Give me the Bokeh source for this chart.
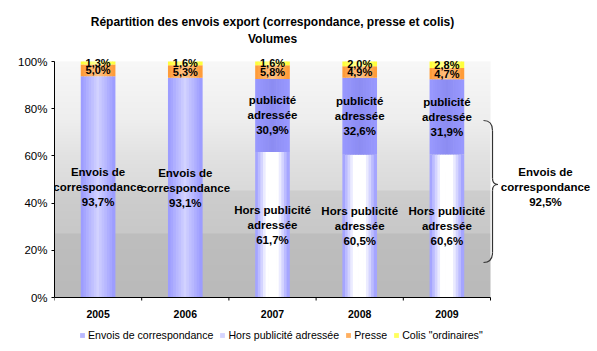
import numpy as np
from bokeh.plotting import figure
from bokeh.models import (ColumnDataSource, FixedTicker, CustomJSTickFormatter,
                          Legend, LegendItem, Range1d)
from bokeh.transform import dodge
from bokeh.core.properties import value
from bokeh.embed import file_html
from bokeh.resources import INLINE

# ---------------- data ----------------
years = ["2005", "2006", "2007", "2008", "2009"]
hors_pub = [0.0, 0.0, 61.7, 60.5, 60.6]      # Hors publicité adressée
envois = [93.7, 93.1, 0.0, 0.0, 0.0]        # Envois de correspondance (non ventilés)
pub_adr = [0.0, 0.0, 30.9, 32.6, 31.9]      # publicité adressée
presse = [5.0, 5.3, 5.8, 4.9, 4.7]          # Presse
colis = [1.3, 1.6, 1.6, 2.0, 2.8]           # Colis "ordinaires"
envois_2009_total = 92.5
y_ticks = [0, 20, 40, 60, 80, 100]
legend_labels = ["Envois de correspondance", "Hors publicité adressée", "Presse", 'Colis "ordinaires"']
title_lines = ["Répartition des envois export (correspondance, presse et colis)", "Volumes"]

# ---------------- style ----------------
FONT = value("Liberation Sans")
BAR_W = 0.39
NSTRIP = 13
PX_PER_CAT = 87.2
Y_PER_PX = 100.0 / 236.0
LEFT = 54

n = len(years)
xc = np.arange(n) + 0.5

def fmt(v):
    return f"{v:.1f}".replace(".", ",") + "%"

def hexcol(c):
    return "#%02x%02x%02x" % tuple(int(round(v)) for v in c)

def mix(a, b, t):
    return tuple(a[i] + (b[i] - a[i]) * t for i in range(3))

def px2x(px):
    return (px - LEFT) / PX_PER_CAT

def py2y(py):
    return (297 - py) * Y_PER_PX

p = figure(width=597, height=351,
           x_range=Range1d(0, px2x(597)),
           y_range=Range1d(py2y(351), py2y(0)),
           x_axis_type=None, output_backend="svg", toolbar_location=None,
           min_border_left=LEFT, min_border_right=0, min_border_top=0, min_border_bottom=0,
           background_fill_color="white", border_fill_color="white")
p.outline_line_color = None
p.grid.visible = False

# ---- plot-area background (vertical grey gradient) ----
H = 236
ys = (np.arange(H) + 0.5) / H * 100
lev = np.interp(ys, [0, 27, 27.01, 45.5, 45.51, 60, 75, 100],
                [186, 190, 200, 206, 218, 226, 238, 248])
img = np.empty((H, 2), dtype=np.uint32)
view = img.view(dtype=np.uint8).reshape((H, 2, 4))
for c in range(3):
    view[:, :, c] = lev[:, None].astype(np.uint8)
view[:, :, 3] = 255
p.image_rgba(image=[img], x=0, y=0, dw=n, dh=100)

# ---- stacked bars ----
# (name, values, edge colour, centre colour, gain, strip used as legend swatch)
series = [("hors", hors_pub, (0x99, 0x99, 0xff), (0xff, 0xff, 0xff), 1.5, 2),
          ("envois", envois, (0x99, 0x99, 0xff), (0xd2, 0xd2, 0xff), 1.0, 3),
          ("pub", pub_adr, (0x99, 0x99, 0xff), (0x8c, 0x8c, 0xf2), 1.0, 3),
          ("presse", presse, (0xff, 0x99, 0x33), (0xff, 0xc2, 0x85), 1.0, 3),
          ("colis", colis, (0xff, 0xff, 0x33), (0xff, 0xff, 0xa0), 1.0, 2)]
cum = np.zeros(n)
sources = {}
legend_r = {}
for name, vals, edge, center, gain, sw_idx in series:
    v = np.array(vals, dtype=float)
    src = ColumnDataSource(dict(x=xc, bottom=cum.copy(), top=cum + v, mid=cum + v / 2, val=v))
    sources[name] = src
    cum = cum + v
    sw = BAR_W / NSTRIP
    rs = []
    for k in range(NSTRIP):
        off = (-0.5 + (k + 0.5) / NSTRIP) * BAR_W
        t = 1 - abs(off) / (BAR_W / 2)
        col = hexcol(mix(edge, center, min(1.0, t * gain)))
        r = p.vbar(x=dodge("x", off), width=sw * 1.25, bottom="bottom", top="top",
                   source=src, fill_color=col, line_color=None)
        rs.append(r)
    legend_r[name] = rs[sw_idx]

# ---- x axis line, ticks (category boundaries) and year labels ----
bounds = np.arange(n + 1)
p.segment(x0=[0], y0=[0], x1=[n], y1=[0], line_color="black", line_width=1)
p.segment(x0=bounds, y0=np.zeros(n + 1), x1=bounds, y1=np.full(n + 1, -3 * Y_PER_PX),
          line_color="black", line_width=1)
p.text(x=xc, y=np.full(n, py2y(313)), text=years, text_align="center", text_baseline="middle",
       text_font=FONT, text_font_style="bold", text_font_size="10.5px", text_color="black")

# ---- labels ----
def label_src(vals, mids, template):
    xs, yv, tx = [], [], []
    for i, v in enumerate(vals):
        if v > 0:
            xs.append(xc[i]); yv.append(mids[i]); tx.append(template.format(fmt(v)))
    return ColumnDataSource(dict(x=xs, y=yv, text=tx))

big = dict(text_align="center", text_baseline="middle", text_font=FONT,
           text_font_style="bold", text_font_size="11.5px", text_line_height=1.25,
           text_color="black")
small = dict(big, text_font_size="11px")
p.text(x="x", y="y", text="text",
       source=label_src(envois, sources["envois"].data["mid"], "Envois de\ncorrespondance\n{}"), **big)
p.text(x="x", y="y", text="text",
       source=label_src(hors_pub, sources["hors"].data["mid"], "Hors publicité\nadressée\n{}"), **big)
p.text(x="x", y="y", text="text",
       source=label_src(pub_adr, sources["pub"].data["mid"], "publicité\nadressée\n{}"), **big)
p.text(x="x", y="y", text="text",
       source=label_src(presse, sources["presse"].data["mid"], "{}"), **small)
p.text(x="x", y="y", text="text",
       source=label_src(colis, sources["colis"].data["mid"], "{}"), **small)

# ---- title ----
p.text(x=[n / 2, n / 2], y=[py2y(21), py2y(38)], text=title_lines,
       text_align="center", text_baseline="middle", text_font=FONT, text_font_style="bold",
       text_font_size="12px", text_color="black")

# ---- brace and its label ----
xl, xm, xt = px2x(483), px2x(492), px2x(497.5)
yt, yb, yk = py2y(120), py2y(262), py2y(184)
rr, rk = 10 * Y_PER_PX, 6 * Y_PER_PX
bc = "#333333"
p.quadratic(x0=[xl, xm, xt, xm], y0=[yt, yk + rk, yk, yb + rr],
            x1=[xm, xt, xm, xl], y1=[yt - rr, yk, yk - rk, yb],
            cx=[xm, xm, xm, xm], cy=[yt, yk, yk, yb], line_color=bc, line_width=1.2)
p.segment(x0=[xm, xm], y0=[yt - rr, yk - rk], x1=[xm, xm], y1=[yk + rk, yb + rr],
          line_color=bc, line_width=1.2)
p.text(x=[px2x(545)], y=[py2y(186)], text=["Envois de\ncorrespondance\n" + fmt(envois_2009_total)],
       **big)

# ---- y axis ----
yax = p.yaxis[0]
yax.bounds = (0, 100)
yax.ticker = FixedTicker(ticks=y_ticks)
yax.formatter = CustomJSTickFormatter(code="return tick + '%';")
yax.major_tick_out = 3
yax.major_tick_in = 0
yax.minor_tick_out = 0
yax.minor_tick_in = 0
yax.major_label_standoff = 4
yax.major_label_text_font = "Liberation Sans"
yax.major_label_text_font_size = "11.5px"
yax.major_label_text_color = "black"
yax.axis_line_color = "black"
yax.major_tick_line_color = "black"

# ---- legend ----
items = [LegendItem(label=legend_labels[0], renderers=[legend_r["envois"]]),
         LegendItem(label=legend_labels[1], renderers=[legend_r["hors"]]),
         LegendItem(label=legend_labels[2], renderers=[legend_r["presse"]]),
         LegendItem(label=legend_labels[3], renderers=[legend_r["colis"]])]
legend = Legend(items=items, orientation="horizontal", location=(25, 10),
                glyph_width=6, glyph_height=6, label_standoff=3, spacing=6,
                padding=2, margin=0, border_line_color=None, background_fill_alpha=0,
                label_text_font="Liberation Sans", label_text_font_size="10.6px",
                label_text_color="black", label_height=12)
p.add_layout(legend)

open("out.html", "w").write(file_html(p, INLINE))
